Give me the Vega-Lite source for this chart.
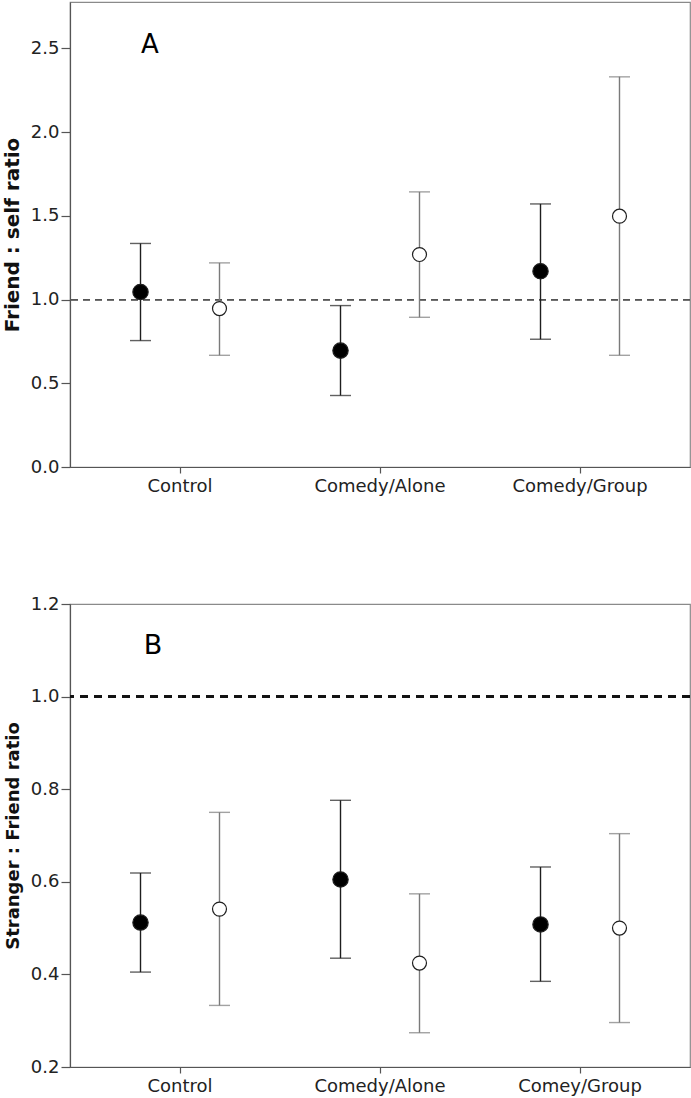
{
  "$schema": "https://vega.github.io/schema/vega-lite/v6.json",
  "background": "white",
  "padding": {"left": 1, "top": 1, "right": 2, "bottom": 2},
  "bounds": "flush",
  "spacing": 137,
  "config": {
    "font": "DejaVu Sans",
    "view": {"stroke": "#8a8a8a", "strokeWidth": 1.2},
    "axis": {
      "domainColor": "#555555",
      "tickColor": "#555555",
      "labelColor": "#222222",
      "titleColor": "#111111",
      "labelFont": "DejaVu Sans",
      "titleFont": "DejaVu Sans",
      "labelFontSize": 18,
      "titleFontSize": 20,
      "titleFontWeight": "bold",
      "grid": false,
      "domainWidth": 1.2,
      "tickWidth": 1.2
    },
    "axisY": {"tickSize": 9, "labelPadding": 2, "titlePadding": 8},
    "axisX": {"tickSize": 6, "labelPadding": 4, "labelAngle": 0}
  },
  "datasets": {
    "a": [
      {"group": "Control", "cond": "filled", "mean": 1.045, "lo": 0.755, "hi": 1.335},
      {"group": "Control", "cond": "open", "mean": 0.946, "lo": 0.667, "hi": 1.219},
      {"group": "Comedy/Alone", "cond": "filled", "mean": 0.695, "lo": 0.427, "hi": 0.964},
      {"group": "Comedy/Alone", "cond": "open", "mean": 1.269, "lo": 0.894, "hi": 1.643},
      {"group": "Comedy/Group", "cond": "filled", "mean": 1.169, "lo": 0.763, "hi": 1.571},
      {"group": "Comedy/Group", "cond": "open", "mean": 1.498, "lo": 0.667, "hi": 2.33}
    ],
    "b": [
      {"group": "Control", "cond": "filled", "mean": 0.512, "lo": 0.405, "hi": 0.619},
      {"group": "Control", "cond": "open", "mean": 0.541, "lo": 0.333, "hi": 0.75},
      {"group": "Comedy/Alone", "cond": "filled", "mean": 0.605, "lo": 0.435, "hi": 0.776},
      {"group": "Comedy/Alone", "cond": "open", "mean": 0.4245, "lo": 0.274, "hi": 0.574},
      {"group": "Comey/Group", "cond": "filled", "mean": 0.508, "lo": 0.385, "hi": 0.632},
      {"group": "Comey/Group", "cond": "open", "mean": 0.5, "lo": 0.296, "hi": 0.704}
    ],
    "labA": [{"label": "A"}],
    "labB": [{"label": "B"}]
  },
  "vconcat": [
    {
      "width": 620,
      "height": 465,
      "data": {"name": "a"},
      "encoding": {
        "x": {"field": "group", "type": "nominal", "sort": ["Control", "Comedy/Alone", "Comedy/Group"], "scale": {"paddingInner": 0, "paddingOuter": 0.05}, "axis": {"title": null}},
        "xOffset": {"field": "cond", "type": "nominal", "sort": ["filled", "open"], "scale": {"paddingInner": 0, "paddingOuter": 0.266}}
      },
      "layer": [
        {
          "mark": {"type": "rule", "strokeDash": [7, 5], "strokeWidth": 1.3, "color": "#555555"},
          "encoding": {"x": null, "xOffset": null, "y": {"datum": 1}}
        },
        {
          "mark": {"type": "rule", "strokeWidth": 1.4},
          "encoding": {
            "y": {"field": "lo", "type": "quantitative", "scale": {"domain": [0, 2.777], "nice": false, "zero": false}, "axis": {"title": "Friend : self ratio", "values": [0, 0.5, 1, 1.5, 2, 2.5], "format": ".1f"}},
            "y2": {"field": "hi"},
            "color": {"field": "cond", "type": "nominal", "scale": {"domain": ["filled", "open"], "range": ["#1e1e1e", "#7a7a7a"]}, "legend": null}
          }
        },
        {
          "mark": {"type": "tick", "orient": "horizontal", "size": 21, "thickness": 1.4},
          "encoding": {
            "y": {"field": "hi", "type": "quantitative"},
            "color": {"field": "cond", "type": "nominal", "legend": null}
          }
        },
        {
          "mark": {"type": "tick", "orient": "horizontal", "size": 21, "thickness": 1.4},
          "encoding": {
            "y": {"field": "lo", "type": "quantitative"},
            "color": {"field": "cond", "type": "nominal", "legend": null}
          }
        },
        {
          "mark": {"type": "point", "shape": "circle", "opacity": 1, "strokeWidth": 1.2, "stroke": "#1e1e1e"},
          "encoding": {
            "y": {"field": "mean", "type": "quantitative"},
            "fill": {"field": "cond", "type": "nominal", "scale": {"domain": ["filled", "open"], "range": ["#000000", "#ffffff"]}, "legend": null},
            "size": {"field": "cond", "type": "nominal", "scale": {"domain": ["filled", "open"], "range": [235, 195]}, "legend": null}
          }
        },
        {
          "data": {"name": "labA"},
          "mark": {"type": "text", "fontSize": 26, "font": "DejaVu Sans", "color": "#000000", "dx": -30, "baseline": "middle"},
          "encoding": {"x": {"datum": "Control"}, "xOffset": null, "y": {"datum": 2.52}, "text": {"field": "label"}}
        }
      ]
    },
    {
      "width": 620,
      "height": 463,
      "data": {"name": "b"},
      "encoding": {
        "x": {"field": "group", "type": "nominal", "sort": ["Control", "Comedy/Alone", "Comey/Group"], "scale": {"paddingInner": 0, "paddingOuter": 0.05}, "axis": {"title": null}},
        "xOffset": {"field": "cond", "type": "nominal", "sort": ["filled", "open"], "scale": {"paddingInner": 0, "paddingOuter": 0.266}}
      },
      "layer": [
        {
          "mark": {"type": "rule", "strokeDash": [8, 6], "strokeWidth": 2, "color": "#111111"},
          "encoding": {"x": null, "xOffset": null, "y": {"datum": 1}}
        },
        {
          "mark": {"type": "rule", "strokeWidth": 1.4},
          "encoding": {
            "y": {"field": "lo", "type": "quantitative", "scale": {"domain": [0.2, 1.2], "nice": false, "zero": false}, "axis": {"title": "Stranger : Friend ratio", "titleFontSize": 18, "values": [0.2, 0.4, 0.6, 0.8, 1.0, 1.2], "format": ".1f"}},
            "y2": {"field": "hi"},
            "color": {"field": "cond", "type": "nominal", "scale": {"domain": ["filled", "open"], "range": ["#1e1e1e", "#7a7a7a"]}, "legend": null}
          }
        },
        {
          "mark": {"type": "tick", "orient": "horizontal", "size": 21, "thickness": 1.4},
          "encoding": {
            "y": {"field": "hi", "type": "quantitative"},
            "color": {"field": "cond", "type": "nominal", "legend": null}
          }
        },
        {
          "mark": {"type": "tick", "orient": "horizontal", "size": 21, "thickness": 1.4},
          "encoding": {
            "y": {"field": "lo", "type": "quantitative"},
            "color": {"field": "cond", "type": "nominal", "legend": null}
          }
        },
        {
          "mark": {"type": "point", "shape": "circle", "opacity": 1, "strokeWidth": 1.2, "stroke": "#1e1e1e"},
          "encoding": {
            "y": {"field": "mean", "type": "quantitative"},
            "fill": {"field": "cond", "type": "nominal", "scale": {"domain": ["filled", "open"], "range": ["#000000", "#ffffff"]}, "legend": null},
            "size": {"field": "cond", "type": "nominal", "scale": {"domain": ["filled", "open"], "range": [235, 195]}, "legend": null}
          }
        },
        {
          "data": {"name": "labB"},
          "mark": {"type": "text", "fontSize": 27, "font": "DejaVu Sans", "color": "#000000", "dx": -27, "baseline": "middle"},
          "encoding": {"x": {"datum": "Control"}, "xOffset": null, "y": {"datum": 1.11}, "text": {"field": "label"}}
        }
      ]
    }
  ]
}
